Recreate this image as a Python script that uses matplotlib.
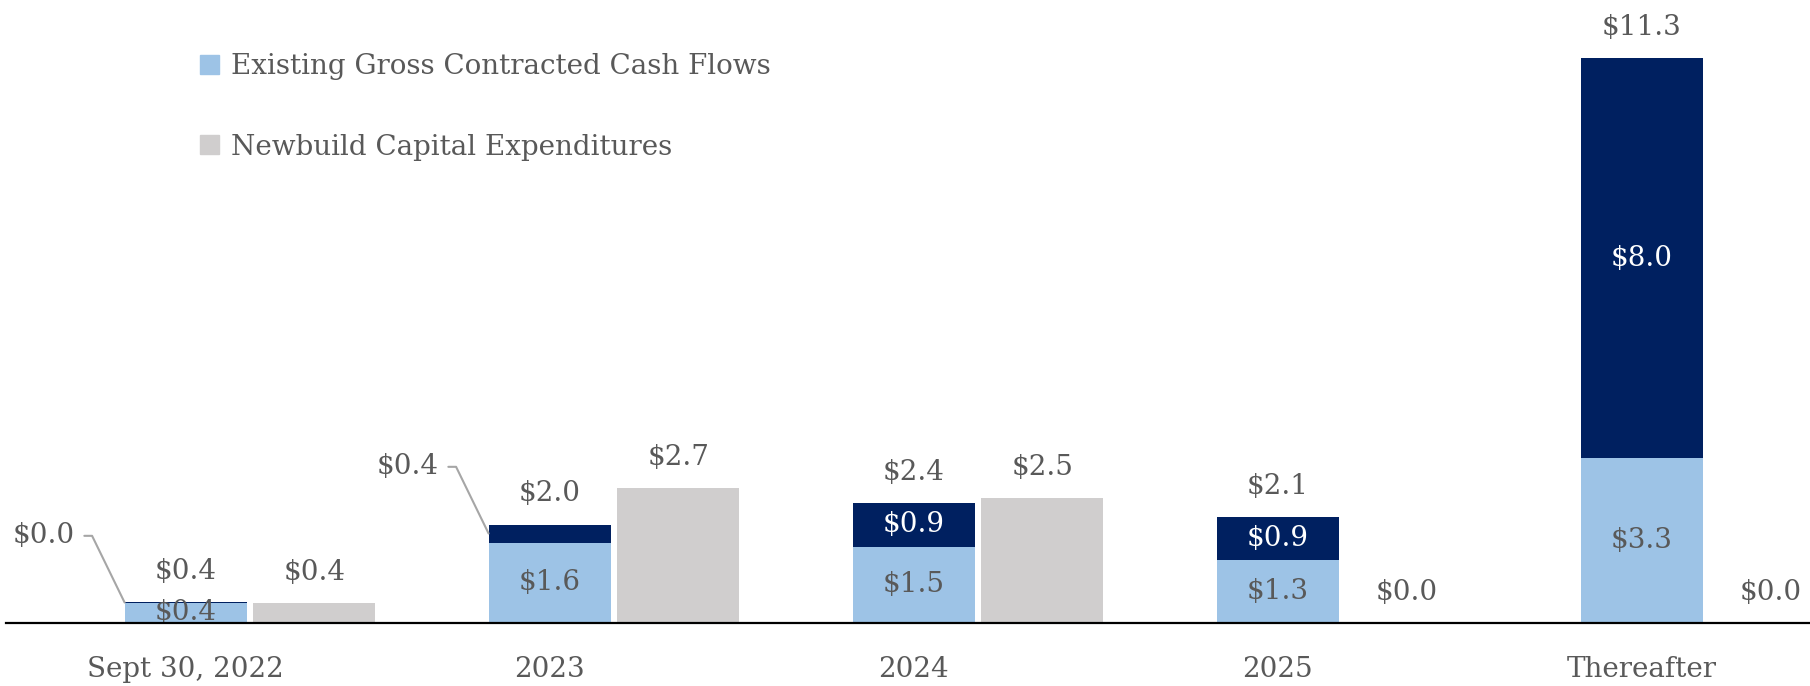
#!/usr/bin/env python3
"""
Contracted cash flows vs newbuild capex by period ($bn).
Stacked bar (existing + navy top-up) next to a grey capex bar per period.
"""

import matplotlib
matplotlib.use("Agg")
import matplotlib.pyplot as plt
from matplotlib.patches import Patch
import numpy as np

# ============================== CONFIG ==============================
OUT_PATH = "out.png"
DPI      = 100
FIGSIZE  = (18.10, 6.86)

periods    = ["Sept 30, 2022", "2023", "2024", "2025", "Thereafter"]
existing   = [0.40, 1.61, 1.52, 1.26, 3.30]   # light blue
additional = [0.02, 0.36, 0.88, 0.86, 8.00]   # navy, stacked on top
capex      = [0.40, 2.70, 2.50, 0.00, 0.00]   # grey

LIGHT_BLUE = "#9DC3E6"
NAVY       = "#002060"
GREY       = "#D0CECE"
TEXT       = "#595959"
FONT       = "DejaVu Serif"
FS         = 20

BAR_W  = 0.335
OFFSET = 0.177
# ====================================================================

plt.rcParams["font.family"] = FONT


def money(v):
    return f"${v:.1f}"


def main():
    x = np.arange(len(periods))
    existing_a = np.array(existing)
    add_a = np.array(additional)
    capex_a = np.array(capex)
    totals = existing_a + add_a

    fig = plt.figure(figsize=FIGSIZE, dpi=DPI)
    ax = fig.add_axes([6 / 1810, 63 / 686, 1 - 6 / 1810, 623 / 686])

    xb = x - OFFSET
    xg = x + OFFSET
    ax.bar(xb, existing_a, BAR_W, color=LIGHT_BLUE, zorder=2)
    ax.bar(xb, add_a, BAR_W, bottom=existing_a, color=NAVY, zorder=2)
    ax.bar(xg, capex_a, BAR_W, color=GREY, zorder=2)

    lbl = dict(ha="center", va="center", fontsize=FS)
    # segment labels
    for xi, e, a in zip(xb, existing_a, add_a):
        ax.text(xi, e / 2, money(e), color=TEXT, **lbl)
        if a >= 0.5:
            ax.text(xi, e + a / 2, money(a), color="white", **lbl)
    # totals above stacked bars
    for xi, t in zip(xb, totals):
        ax.annotate(money(t), (xi, t), xytext=(0, 22),
                    textcoords="offset points", color=TEXT, **lbl)
    # grey bar labels
    for xi, c in zip(xg, capex_a):
        ax.annotate(money(c), (xi, c), xytext=(0, 22),
                    textcoords="offset points", color=TEXT, **lbl)

    # callouts for thin navy segments
    for i in range(len(periods)):
        a = add_a[i]
        if a < 0.5:
            ax.annotate(money(a), (xb[i] - BAR_W / 2, existing_a[i] + a / 2),
                        xytext=(-36, 48), textcoords="offset points",
                        ha="right", va="center", fontsize=FS, color=TEXT,
                        arrowprops=dict(arrowstyle="-", color="#A6A6A6", lw=1.5,
                                        connectionstyle="angle,angleA=0,angleB=-64,rad=0",
                                        shrinkA=5, shrinkB=0))

    ax.set_xlim((6 - 250) / 364, (1810 - 250) / 364)
    ax.set_ylim(0, 623 / 50)
    ax.set_xticks(xb)
    ax.set_xticklabels(periods, fontsize=FS, color=TEXT)
    ax.tick_params(axis="x", length=0, pad=24)
    ax.set_yticks([])
    for s in ("top", "right", "left"):
        ax.spines[s].set_visible(False)
    ax.spines["bottom"].set_linewidth(1.6)
    ax.spines["bottom"].set_zorder(3)

    handles = [Patch(color=LIGHT_BLUE, label="Existing Gross Contracted Cash Flows"),
               Patch(color=GREY, label="Newbuild Capital Expenditures")]
    fig.legend(handles=handles, loc="upper left",
               bbox_to_anchor=(200 / 1810, 1 - 53 / 686), frameon=False,
               fontsize=FS, labelcolor=TEXT, handlelength=0.68, handleheight=0.68,
               handletextpad=0.45, labelspacing=1.93, borderpad=0, borderaxespad=0)

    fig.savefig(OUT_PATH, dpi=DPI)


if __name__ == "__main__":
    main()
